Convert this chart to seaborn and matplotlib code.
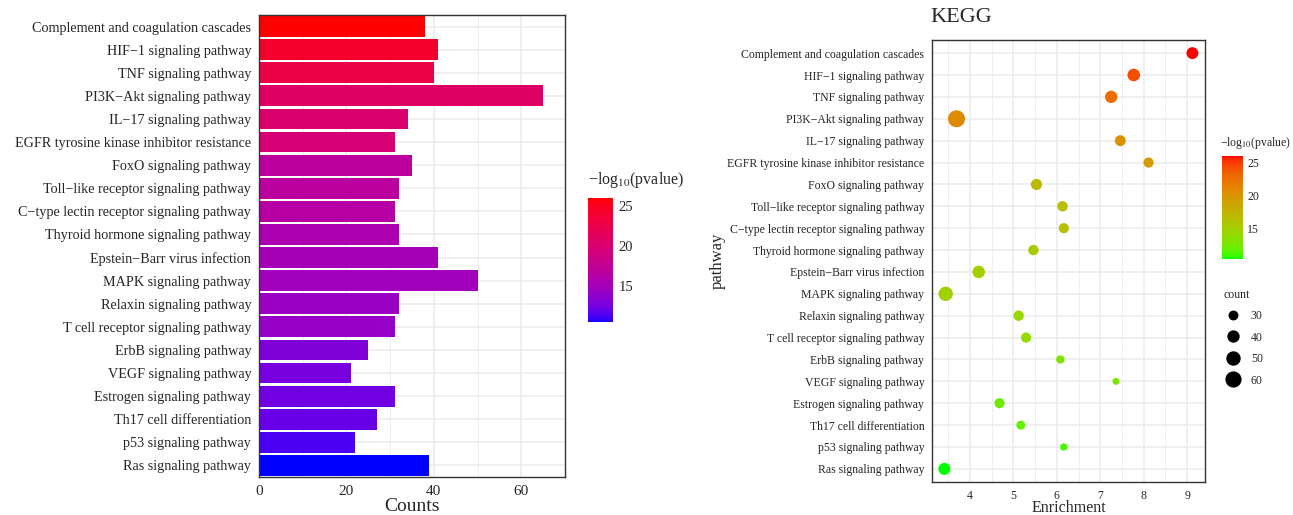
import numpy as np
import pandas as pd
import matplotlib
matplotlib.use('Agg')
import matplotlib.pyplot as plt
import seaborn as sns
from matplotlib.colors import ListedColormap, Normalize
from matplotlib.cm import ScalarMappable
from matplotlib.lines import Line2D

# KEGG enrichment results
pathways = ['Complement and coagulation cascades', 'HIF−1 signaling pathway',
            'TNF signaling pathway', 'PI3K−Akt signaling pathway',
            'IL−17 signaling pathway', 'EGFR tyrosine kinase inhibitor resistance',
            'FoxO signaling pathway', 'Toll−like receptor signaling pathway',
            'C−type lectin receptor signaling pathway', 'Thyroid hormone signaling pathway',
            'Epstein−Barr virus infection', 'MAPK signaling pathway',
            'Relaxin signaling pathway', 'T cell receptor signaling pathway',
            'ErbB signaling pathway', 'VEGF signaling pathway',
            'Estrogen signaling pathway', 'Th17 cell differentiation',
            'p53 signaling pathway', 'Ras signaling pathway']
counts = [38, 41, 40, 65, 34, 31, 35, 32, 31, 32, 41, 50, 32, 31, 25, 21, 31, 27, 22, 39]
neglog_p = [26.06, 24.3, 22.8, 20.8, 20.2, 19.6, 16.9, 16.7, 16.4, 15.6,
            15.2, 14.8, 14.4, 14.1, 13.0, 12.6, 12.3, 12.0, 11.2, 10.45]
enrichment = [9.12, 7.77, 7.25, 3.69, 7.46, 8.11, 5.53, 6.13, 6.16, 5.46,
              4.20, 3.44, 5.12, 5.29, 6.08, 7.36, 4.68, 5.17, 6.16, 3.41]

df = pd.DataFrame({'pathway': pathways, 'count': counts,
                   'pval': neglog_p, 'enrich': enrichment})


# ggplot-like gradients are interpolated in Lab space
def to_lab(rgb):
    c = np.asarray(rgb, float)
    c = np.where(c <= 0.04045, c / 12.92, ((c + 0.055) / 1.055) ** 2.4)
    m = np.array([[0.4124, 0.3576, 0.1805], [0.2126, 0.7152, 0.0722], [0.0193, 0.1192, 0.9505]])
    xyz = m @ c / np.array([0.95047, 1.0, 1.08883])
    f = np.where(xyz > 0.008856, np.cbrt(xyz), 7.787 * xyz + 16 / 116)
    return np.array([116 * f[1] - 16, 500 * (f[0] - f[1]), 200 * (f[1] - f[2])])


def from_lab(lab):
    fy = (lab[0] + 16) / 116
    f = np.array([fy + lab[1] / 500, fy, fy - lab[2] / 200])
    xyz = np.where(f > 0.2069, f ** 3, (f - 16 / 116) / 7.787) * np.array([0.95047, 1.0, 1.08883])
    m = np.array([[3.2406, -1.5372, -0.4986], [-0.9689, 1.8758, 0.0415], [0.0557, -0.2040, 1.0570]])
    c = np.clip(m @ xyz, 0, 1)
    c = np.where(c <= 0.0031308, 12.92 * c, 1.055 * c ** (1 / 2.4) - 0.055)
    return np.clip(c, 0, 1)


def lab_cmap(low, high, n=256):
    a, b = to_lab(low), to_lab(high)
    return ListedColormap([from_lab(a + (b - a) * t) for t in np.linspace(0, 1, n)])


cmap_br = lab_cmap((0, 0, 1), (1, 0, 0))
cmap_gr = lab_cmap((0, 1, 0), (1, 0, 0))
norm = Normalize(vmin=min(neglog_p), vmax=max(neglog_p))

sns.set_style('white')
plt.rcParams['font.family'] = ['Liberation Serif', 'DejaVu Serif']
plt.rcParams['mathtext.fontset'] = 'stix'

W, H = 1293, 515
fig = plt.figure(figsize=(W / 100, H / 100), dpi=100)


def box(x0, y0, x1, y1):
    return [x0 / W, 1 - y1 / H, (x1 - x0) / W, (y1 - y0) / H]


grid_col = '#EBEBEB'
border_col = '#333333'

# ---- left: bar chart of counts ----
ax1 = fig.add_axes(box(259, 15, 565, 477))
bar_colors = {p: cmap_br(norm(v)) for p, v in zip(pathways, neglog_p)}
sns.barplot(data=df, x='count', y='pathway', hue='pathway', palette=bar_colors,
            legend=False, width=0.9, linewidth=0, saturation=1, ax=ax1)
ax1.set_xlim(0, 70)
ax1.set_ylim(len(pathways) - 0.5, -0.5)
ax1.set_xticks([0, 20, 40, 60])
ax1.set_xticks([10, 30, 50, 70], minor=True)
ax1.set_axisbelow(True)
ax1.grid(True, which='major', color=grid_col, lw=1.1)
ax1.grid(True, which='minor', axis='x', color=grid_col, lw=0.6)
ax1.tick_params(axis='both', which='major', direction='out', length=3.5, width=0.8,
                color=border_col, labelsize=10.2, pad=2)
ax1.tick_params(axis='x', labelsize=11)
ax1.tick_params(which='minor', length=0)
ax1.set_ylabel('')
ax1.set_xlabel('Counts', fontsize=14, labelpad=0)
for s in ax1.spines.values():
    s.set_color(border_col)
    s.set_linewidth(1.0)

cax1 = fig.add_axes(box(588, 198, 613, 322))
cb1 = fig.colorbar(ScalarMappable(norm=norm, cmap=cmap_br), cax=cax1)
cb1.set_ticks([15, 20, 25])
cb1.outline.set_visible(False)
cax1.tick_params(direction='in', length=5, width=0.8, color='white', left=True,
                 right=True, labelsize=10.5, pad=4)
fig.text(588 / W, 1 - 180 / H, '−log$_{10}$(pvalue)', fontsize=11.5, ha='left', va='center')

# ---- right: dot plot of enrichment ----
ax2 = fig.add_axes(box(932, 40, 1205, 482))
sns.scatterplot(data=df, x='enrich', y='pathway', hue='pval', palette=cmap_gr,
                hue_norm=(norm.vmin, norm.vmax), size='count', sizes=(25, 150),
                size_norm=(21, 65), legend=False, edgecolor='none', ax=ax2, zorder=3)
ax2.set_xlim(3.125, 9.41)
ax2.set_ylim(len(pathways) - 0.4, -0.6)
ax2.set_xticks([4, 5, 6, 7, 8, 9])
ax2.set_xticks([3.5, 4.5, 5.5, 6.5, 7.5, 8.5], minor=True)
ax2.set_axisbelow(True)
ax2.grid(True, which='major', color=grid_col, lw=1.1)
ax2.grid(True, which='minor', axis='x', color=grid_col, lw=0.6)
ax2.tick_params(axis='both', which='major', direction='out', length=3.5, width=0.8,
                color=border_col, labelsize=8.5, pad=2)
ax2.tick_params(which='minor', length=0)
ax2.set_xlabel('Enrichment', fontsize=11.5, labelpad=-1)
ax2.set_ylabel('pathway', fontsize=12)
ax2.yaxis.set_label_coords(-0.755, 0.5)
for s in ax2.spines.values():
    s.set_color(border_col)
    s.set_linewidth(1.0)
fig.text(930 / W, 1 - 18 / H, 'KEGG', fontsize=16, ha='left', va='center')

cax2 = fig.add_axes(box(1222, 156, 1243, 259))
cb2 = fig.colorbar(ScalarMappable(norm=norm, cmap=cmap_gr), cax=cax2)
cb2.set_ticks([15, 20, 25])
cb2.outline.set_visible(False)
cax2.tick_params(direction='in', length=4, width=0.8, color='white', left=True,
                 right=True, labelsize=8.5, pad=3)
fig.text(1220 / W, 1 - 143 / H, '−log$_{10}$(pvalue)', fontsize=8.5, ha='left', va='center')

# size legend
legend_counts = [30, 40, 50, 60]
handles = [Line2D([], [], marker='o', linestyle='', color='black', markeredgewidth=0,
                  markersize=np.sqrt(25 + (v - 21) / (65 - 21) * 125)) for v in legend_counts]
fig.legend(handles, [str(v) for v in legend_counts], title='count', loc='upper left',
           bbox_to_anchor=(1219 / W, 1 - 284 / H), frameon=False, fontsize=8.5,
           title_fontsize=8.5, alignment='left', labelspacing=0.8, handletextpad=0.7,
           borderaxespad=0, handlelength=1.6)

fig.savefig('out.png', dpi=100)
